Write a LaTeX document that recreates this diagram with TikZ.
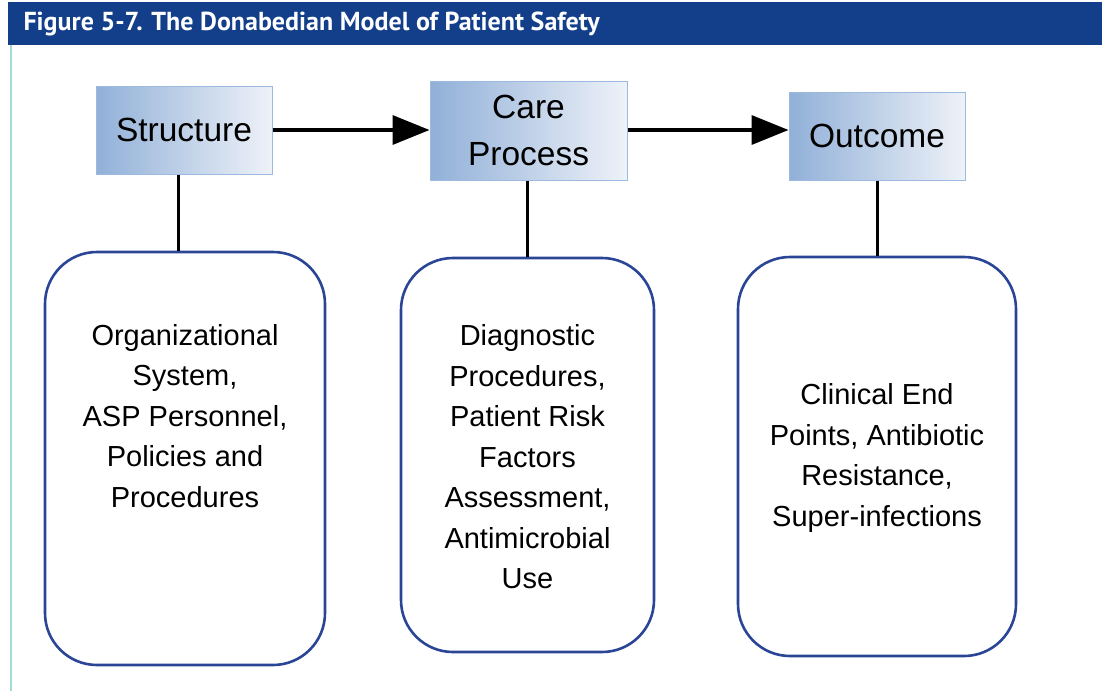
\documentclass[tikz,border=0pt]{standalone}
\usepackage{fontspec}
\setmainfont{Liberation Sans}
\newfontfamily\titlefont{PT Sans}
\usetikzlibrary{arrows.meta}
\definecolor{titleblue}{HTML}{133F8A}
\definecolor{panelblue}{HTML}{2A4596}
\definecolor{boxdark}{HTML}{91B0D8}
\definecolor{boxlight}{HTML}{EEF2F8}
\definecolor{boxline}{HTML}{9CB9DE}
\definecolor{edgeteal}{HTML}{A6DAD6}
\begin{document}
\begin{tikzpicture}[x=1pt, y=-1pt,
    box/.style={draw=boxline, line width=1pt, shading=axis, left color=boxdark, right color=boxlight, shading angle=90, align=center, inner sep=0pt, font=\fontsize{33.5}{47}\selectfont},
    panel/.style={draw=panelblue, line width=2.6pt, rounded corners=52pt, inner sep=0pt},
    paneltext/.style={align=center, font=\fontsize{29}{40.5}\selectfont},
    arrow/.style={-{Triangle[length=37pt, width=29pt]}, line width=3.5pt},
    link/.style={line width=3pt}
]
    \useasboundingbox (0,0) rectangle (1102,691);

    % Title bar and left edge
    \fill[titleblue] (8,2) rectangle (1102,45);
    \node[anchor=west, text=white, font=\titlefont\bfseries\fontsize{26}{30}\selectfont] (title) at (20,23.5) {Figure 5-7. The Donabedian Model of Patient Safety};
    \draw[edgeteal, line width=1.2pt] (11,45) -- (11,691);

    % Top boxes
    \node[box, minimum width=176pt, minimum height=88pt] (struct) at (184,130) {Structure};
    \node[box, minimum width=197pt, minimum height=99pt] (care) at (528.5,130.5) {Care\\Process};
    \node[box, minimum width=176pt, minimum height=88pt] (outc) at (877,136) {Outcome};

    % Arrows
    \draw[arrow] (struct.east |- 0,130) -- (care.west |- 0,130);
    \draw[arrow] (care.east |- 0,130) -- (outc.west |- 0,130);

    % Panels
    \node[panel, minimum width=280pt, minimum height=413pt] (structpanel) at (185,458.5) {};
    \node[panel, minimum width=253pt, minimum height=394pt] (carepanel) at (527.5,455) {};
    \node[panel, minimum width=278pt, minimum height=399pt] (outcpanel) at (877,456.5) {};

    \node[paneltext] (structtxt) at (185,416) {Organizational\\System,\\ASP Personnel,\\Policies and\\Procedures};
    \node[paneltext] (caretxt) at (527.5,457) {Diagnostic\\Procedures,\\Patient Risk\\Factors\\Assessment,\\Antimicrobial\\Use};
    \node[paneltext] (outctxt) at (877,458) {Clinical End\\Points, Antibiotic\\Resistance,\\Super-infections};

    % Links down to panels
    \draw[link] (struct.south -| 178,0) -- (structpanel.north -| 178,0);
    \draw[link] (care.south -| 527,0) -- (carepanel.north -| 527,0);
    \draw[link] (outc.south) -- (outcpanel.north);
\end{tikzpicture}
\end{document}
